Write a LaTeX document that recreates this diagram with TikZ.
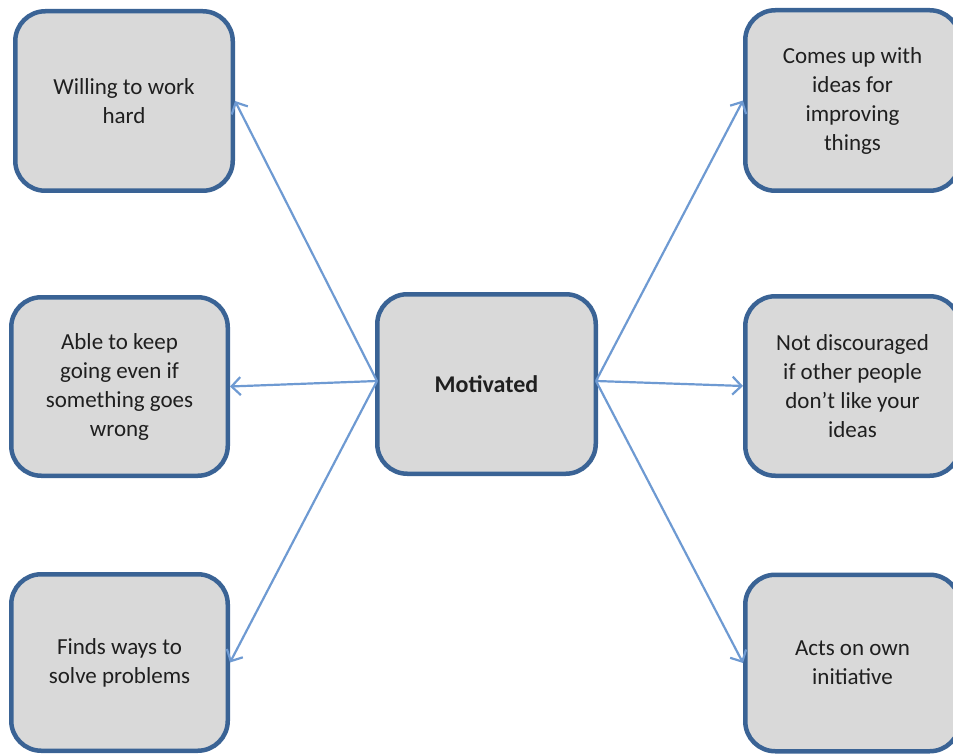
\documentclass[tikz,border=0pt]{standalone}
\usepackage{fontspec}
\setmainfont{Carlito}
\usetikzlibrary{arrows.meta}
\definecolor{boxline}{HTML}{3A6395}
\definecolor{boxfill}{HTML}{D9D9D9}
\definecolor{arrowc}{HTML}{6E9AD2}
\begin{document}
\begin{tikzpicture}[x=1pt,y=-1pt,
  box/.style={draw=boxline, fill=boxfill, line width=4.5pt, rounded corners=30pt,
    align=center, font=\fontsize{23}{29}\selectfont, text=black!88, inner sep=0pt},
  link/.style={draw=arrowc, line width=2.2pt,
    -{Straight Barb[length=9pt,width=18pt,line width=2.2pt]}}]
\useasboundingbox (0,0) rectangle (953,754);
\clip (0,0) rectangle (953,754);
\node[box, minimum width=217.5pt, minimum height=179.5pt] (tl) at (124,101) {Willing to work\\hard};
\node[box, minimum width=216.5pt, minimum height=178.5pt] (ml) at (119.5,386.5) {Able to keep\\going even if\\something goes\\wrong};
\node[box, minimum width=216.5pt, minimum height=176.5pt] (bl) at (119.5,662.5) {Finds ways to\\solve problems};
\node[box, minimum width=218.5pt, minimum height=179.5pt, font=\fontsize{24}{29}\selectfont\bfseries] (c) at (486.5,384) {Motivated};
\node[box, minimum width=214.5pt, minimum height=180.5pt] (tr) at (852.5,100.5) {Comes up with\\ideas for\\improving\\things};
\node[box, minimum width=214.5pt, minimum height=179.5pt] (mr) at (852.5,386) {Not discouraged\\if other people\\don’t like your\\ideas};
\node[box, minimum width=214.5pt, minimum height=176.5pt] (br) at (852.5,663) {Acts on own\\initiative};
\coordinate (cl) at (377,381);
\coordinate (cr) at (596,381);
\draw[link] (cl) -- (tl.east);
\draw[link] (cl) -- (ml.east);
\draw[link] (cl) -- (bl.east);
\draw[link] (cr) -- (tr.west);
\draw[link] (cr) -- (mr.west);
\draw[link] (cr) -- (br.west);
\end{tikzpicture}
\end{document}
